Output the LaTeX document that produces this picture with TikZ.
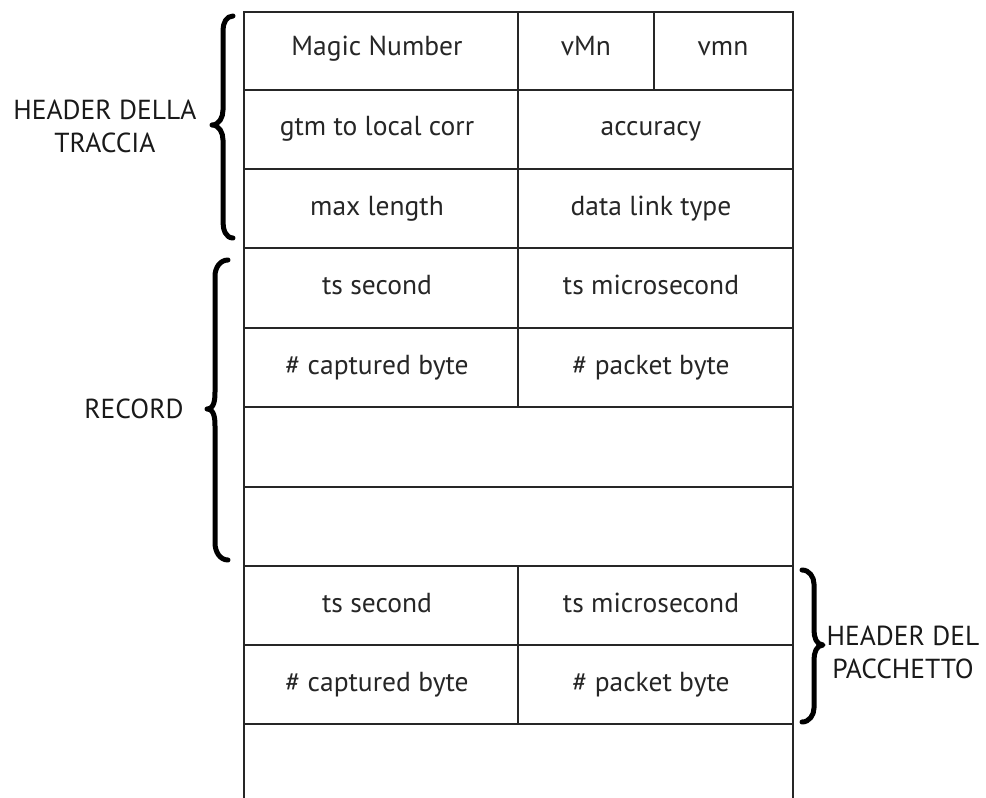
\documentclass[tikz,border=0pt]{standalone}
\usepackage{fontspec}
\setmainfont{PT Sans}
\begin{document}
\begin{tikzpicture}[x=1pt,y=-1pt,
  grid/.style={line width=1.4pt,draw=black!85},
  cell/.style={font=\fontsize{27.5}{33}\selectfont,text=black!85,inner sep=0pt,
    text height=19pt,text depth=6pt},
  side/.style={font=\fontsize{27.5}{33}\selectfont,text=black!90,align=center,inner sep=0pt},
  bracestroke/.style={line width=5pt,line cap=round,line join=round,black}]
\useasboundingbox (0,0) rectangle (986,798);

% table outline, open at the bottom
\draw[grid] (244,798) -- (244,12) -- (793,12) -- (793,798);
% row separators
\foreach \y in {90,169,248,328,407,487,566,645,724}
  \draw[grid] (244,\y) -- (793,\y);
% column separators
\draw[grid] (518,12) -- (518,407);
\draw[grid] (654,12) -- (654,90);
\draw[grid] (518,566) -- (518,724);

% cell texts
\node[cell] (mn)  at (377,49)  {Magic Number};
\node[cell] (vMn) at (586,49)  {vMn};
\node[cell] (vmn) at (723,49)  {vmn};
\node[cell] (gtm) at (377,129) {gtm to local corr};
\node[cell] (acc) at (651,129) {accuracy};
\node[cell] (ml)  at (377,209) {max length};
\node[cell] (dlt) at (651,209) {data link type};
\node[cell] (ts1) at (377,288) {ts second};
\node[cell] (tu1) at (651,288) {ts microsecond};
\node[cell] (cb1) at (377,368) {\# captured byte};
\node[cell] (pb1) at (651,368) {\# packet byte};
\node[cell] (ts2) at (377,606) {ts second};
\node[cell] (tu2) at (651,606) {ts microsecond};
\node[cell] (cb2) at (377,685) {\# captured byte};
\node[cell] (pb2) at (651,685) {\# packet byte};

% braces
\draw[bracestroke] (233,16) to[out=180,in=90] (223,30) -- (223,110)
  to[out=-90,in=0] (212,125) to[out=0,in=90] (223,140) -- (223,222)
  to[out=-90,in=180] (233,238);
\draw[bracestroke] (228,260) to[out=180,in=90] (215,276) -- (215,392)
  to[out=-90,in=0] (207,409) to[out=0,in=90] (215,426) -- (215,543)
  to[out=-90,in=180] (228,560);
\draw[bracestroke] (802,570) to[out=0,in=90] (814,584) -- (814,630)
  to[out=-90,in=180] (823,645) to[out=180,in=90] (814,660) -- (814,708)
  to[out=-90,in=0] (802,722);

% group labels
\node[side] (hdt) at (105,126) {HEADER DELLA\\TRACCIA};
\node[side] (rec) at (134,409) {RECORD};
\node[side] (hdp) at (903,652) {HEADER DEL\\PACCHETTO};
\end{tikzpicture}
\end{document}
